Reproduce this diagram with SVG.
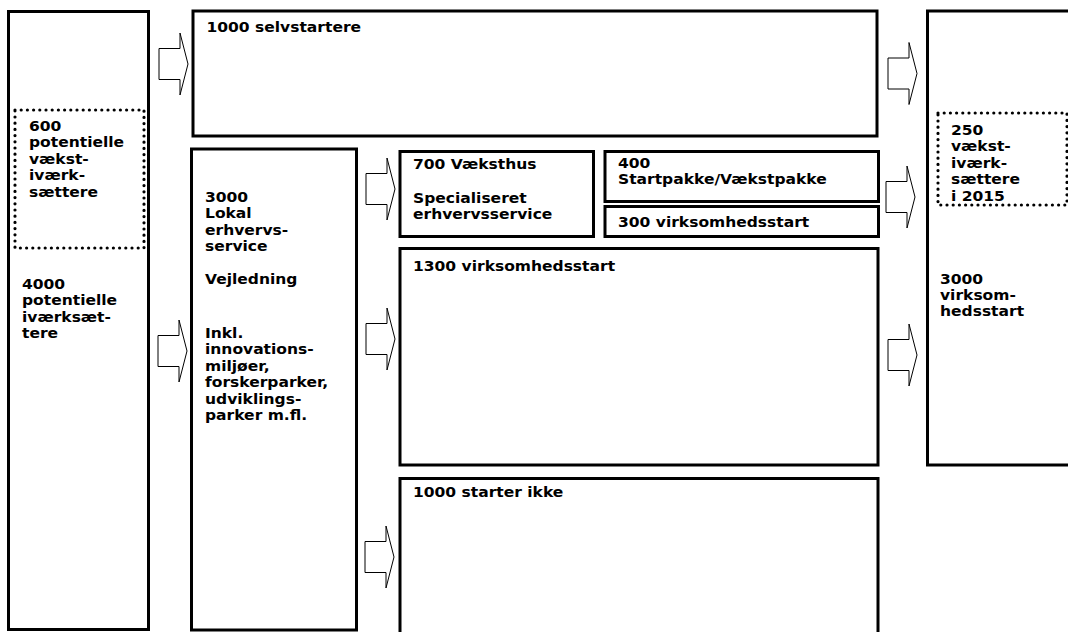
<svg xmlns="http://www.w3.org/2000/svg" width="1068" height="632" viewBox="0 0 1068 632">
<style>
.box{fill:#fff;stroke:#000;stroke-width:3}
.dot{fill:none;stroke:#000;stroke-width:3.2;stroke-dasharray:0 6.2;stroke-linecap:round}
.arr{fill:#fff;stroke:#000;stroke-width:1}
.t{font-family:"DejaVu Sans","Verdana",sans-serif;font-weight:bold;font-size:13.5px;fill:#000}
</style>
<defs>
<path id="blk" d="M0,-15.5 H21 V-31 L29,0 L21,31 V15.5 H0 Z"/>
</defs>
<rect width="1068" height="632" fill="#fff"/>

<g id="n-left">
<rect class="box" x="8.5" y="11.5" width="140" height="618"/>
<rect class="dot" x="15" y="110" width="129" height="138"/>
<text class="t" transform="translate(29,131) scale(1.15,1)"><tspan x="0" y="0">600</tspan><tspan x="0" y="16.5">potentielle</tspan><tspan x="0" y="33">vækst-</tspan><tspan x="0" y="49.5">iværk-</tspan><tspan x="0" y="66">sættere</tspan></text>
<text class="t" transform="translate(22,289) scale(1.15,1)"><tspan x="0" y="0">4000</tspan><tspan x="0" y="16.5">potentielle</tspan><tspan x="0" y="33">iværksæt-</tspan><tspan x="0" y="49.5">tere</tspan></text>
</g>

<g id="n-selv">
<rect class="box" x="193" y="11" width="684" height="125"/>
<text class="t" transform="translate(206.5,31.5) scale(1.15,1)">1000 selvstartere</text>
</g>

<g id="n-lokal">
<rect class="box" x="191.5" y="149" width="165" height="481"/>
<text class="t" transform="translate(205,202) scale(1.15,1)"><tspan x="0" y="0">3000</tspan><tspan x="0" y="16.5">Lokal</tspan><tspan x="0" y="33">erhvervs-</tspan><tspan x="0" y="49.5">service</tspan><tspan x="0" y="82.5">Vejledning</tspan><tspan x="0" y="136">Inkl.</tspan><tspan x="0" y="152.5">innovations-</tspan><tspan x="0" y="169">miljøer,</tspan><tspan x="0" y="185.5">forskerparker,</tspan><tspan x="0" y="202">udviklings-</tspan><tspan x="0" y="218.5">parker m.fl.</tspan></text>
</g>

<g id="n-vaeksthus">
<rect class="box" x="400" y="151.5" width="193.5" height="85"/>
<text class="t" transform="translate(413,169) scale(1.15,1)"><tspan x="0" y="0">700 Væksthus</tspan><tspan x="0" y="34">Specialiseret</tspan><tspan x="0" y="50.5">erhvervsservice</tspan></text>
</g>

<g id="n-startpakke">
<rect class="box" x="605" y="151.5" width="273.5" height="50"/>
<text class="t" transform="translate(618,167.5) scale(1.15,1)"><tspan x="0" y="0">400</tspan><tspan x="0" y="16.5">Startpakke/Vækstpakke</tspan></text>
</g>

<g id="n-300">
<rect class="box" x="605" y="206.5" width="273.5" height="30"/>
<text class="t" transform="translate(618,226.5) scale(1.15,1)">300 virksomhedsstart</text>
</g>

<g id="n-1300">
<rect class="box" x="400" y="248.5" width="478" height="216.5"/>
<text class="t" transform="translate(413,270.5) scale(1.15,1)">1300 virksomhedsstart</text>
</g>

<g id="n-ikke">
<rect class="box" x="400" y="478.5" width="478" height="170"/>
<text class="t" transform="translate(413,497) scale(1.15,1)">1000 starter ikke</text>
</g>

<g id="n-right">
<rect class="box" x="927.5" y="11" width="200" height="454"/>
<rect class="dot" x="938" y="113" width="129" height="92"/>
<text class="t" transform="translate(951,135) scale(1.15,1)"><tspan x="0" y="0">250</tspan><tspan x="0" y="16.5">vækst-</tspan><tspan x="0" y="33">iværk-</tspan><tspan x="0" y="49.5">sættere</tspan><tspan x="0" y="66">i 2015</tspan></text>
<text class="t" transform="translate(940,283.5) scale(1.15,1)"><tspan x="0" y="0">3000</tspan><tspan x="0" y="16.5">virksom-</tspan><tspan x="0" y="33">hedsstart</tspan></text>
</g>

<g id="connectors">
<use href="#blk" class="arr" transform="translate(159,64)"/>
<use href="#blk" class="arr" transform="translate(158,351)"/>
<use href="#blk" class="arr" transform="translate(366,189)"/>
<use href="#blk" class="arr" transform="translate(366,339)"/>
<use href="#blk" class="arr" transform="translate(365,557)"/>
<use href="#blk" class="arr" transform="translate(888,73.5)"/>
<use href="#blk" class="arr" transform="translate(886,197)"/>
<use href="#blk" class="arr" transform="translate(888,355)"/>
</g>
</svg>
